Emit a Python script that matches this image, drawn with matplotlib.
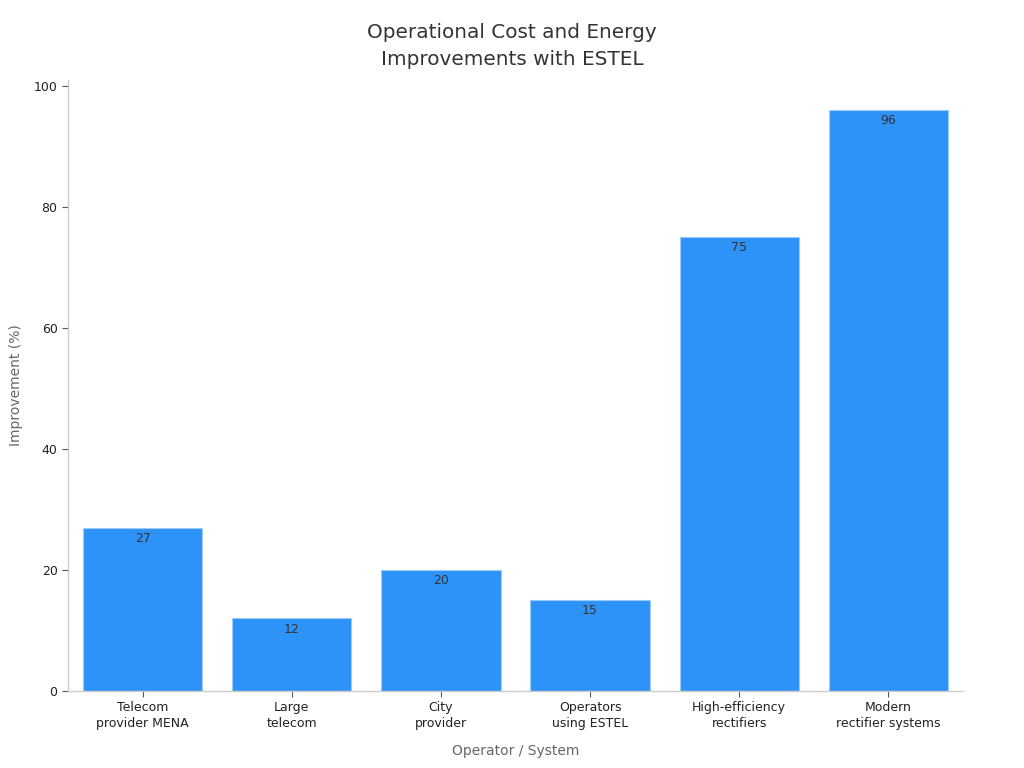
import matplotlib
matplotlib.use('Agg')
import matplotlib.pyplot as plt

categories = ['Telecom\nprovider MENA', 'Large\ntelecom', 'City\nprovider',
              'Operators\nusing ESTEL', 'High-efficiency\nrectifiers', 'Modern\nrectifier systems']
values = [27, 12, 20, 15, 75, 96]

plt.rcParams['font.family'] = ['DejaVu Sans']

fig = plt.figure(figsize=(10.24, 7.68), dpi=100)
ax = fig.add_axes([0.0664, 0.1003, 0.874, 0.7955])

x = range(len(categories))
bars = ax.bar(x, values, width=0.8, color='#2E93F8', edgecolor='#9CCBFA', linewidth=0.8)

# value labels just inside the top of each bar
for b, v in zip(bars, values):
    ax.annotate(str(v), (b.get_x() + b.get_width() / 2, b.get_height()),
                xytext=(0, -3), textcoords='offset points',
                ha='center', va='top', fontsize=9, color='#333333')

ax.set_xlim(-0.5, 5.5)
ax.set_ylim(0, 101)
ax.set_yticks([0, 20, 40, 60, 80, 100])
ax.set_xticks(list(x))
ax.set_xticklabels(categories, fontsize=9, color='#222222', linespacing=1.3)
ax.tick_params(axis='y', labelsize=9, labelcolor='#222222')
ax.tick_params(axis='both', direction='out', length=4, color='#555555', width=0.8)

for s in ['top', 'right']:
    ax.spines[s].set_visible(False)
for s in ['left', 'bottom']:
    ax.spines[s].set_color('#cccccc')
    ax.spines[s].set_linewidth(1)

ax.set_xlabel('Operator / System', fontsize=10, color='#666666', labelpad=10)
ax.set_ylabel('Improvement (%)', fontsize=10, color='#666666', labelpad=8)
fig.suptitle('Operational Cost and Energy\nImprovements with ESTEL', fontsize=14.4,
             color='#333333', y=0.97, linespacing=1.55)

fig.savefig('out.png', dpi=100)
